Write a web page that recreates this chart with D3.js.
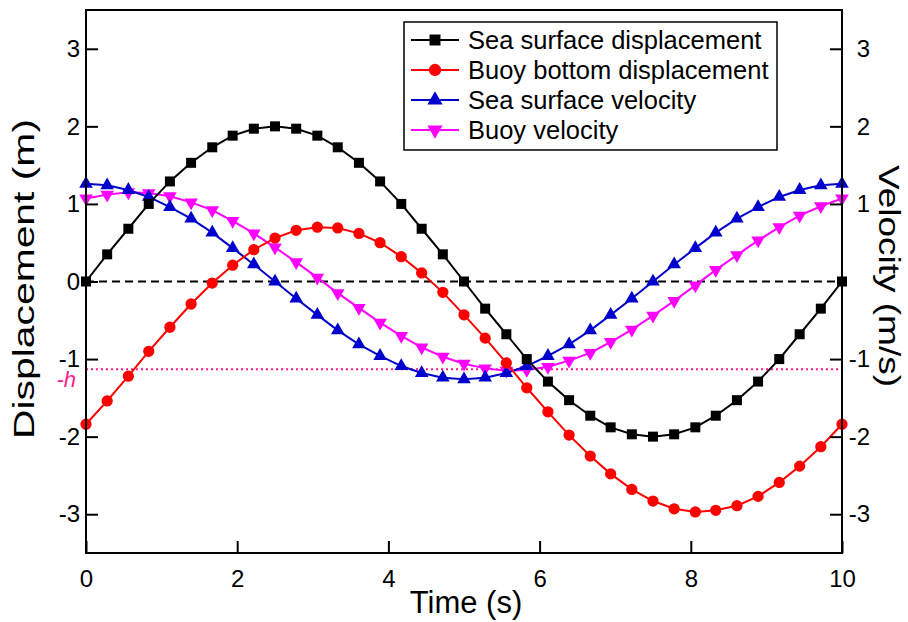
<!DOCTYPE html>
<html>
<head>
<meta charset="utf-8">
<script src="https://cdn.jsdelivr.net/npm/d3@7"></script>
<style>
  body { margin: 0; background: #fff; }
  text { font-family: "Liberation Sans", Arial, sans-serif; fill: #000; }
</style>
</head>
<body>
<div id="chart"></div>
<script>
// time samples (s)
const time = [0, 0.28, 0.56, 0.83, 1.11, 1.39, 1.67, 1.94, 2.22, 2.5, 2.78, 3.06, 3.33, 3.61, 3.89,
  4.17, 4.44, 4.72, 5, 5.28, 5.56, 5.83, 6.11, 6.39, 6.67, 6.94, 7.22, 7.5, 7.78, 8.06, 8.33,
  8.61, 8.89, 9.17, 9.44, 9.72, 10];

const seaDisp = [0, 0.35, 0.68, 1.00, 1.29, 1.53, 1.73, 1.88, 1.97, 2.00, 1.97, 1.88, 1.73, 1.53,
  1.29, 1.00, 0.68, 0.35, 0, -0.35, -0.68, -1.00, -1.29, -1.53, -1.73, -1.88, -1.97, -2.00, -1.97,
  -1.88, -1.73, -1.53, -1.29, -1.00, -0.68, -0.35, 0];

const buoyDisp = [-1.84, -1.54, -1.22, -0.90, -0.59, -0.29, -0.02, 0.21, 0.41, 0.56, 0.66, 0.70,
  0.69, 0.62, 0.50, 0.32, 0.11, -0.14, -0.43, -0.73, -1.05, -1.37, -1.68, -1.98, -2.25, -2.48,
  -2.68, -2.83, -2.93, -2.97, -2.95, -2.89, -2.77, -2.59, -2.38, -2.13, -1.84];

const seaVel = [1.26, 1.24, 1.18, 1.09, 0.96, 0.81, 0.63, 0.43, 0.22, 0, -0.22, -0.43, -0.63, -0.81,
  -0.96, -1.09, -1.18, -1.24, -1.26, -1.24, -1.18, -1.09, -0.96, -0.81, -0.63, -0.43, -0.22, 0,
  0.22, 0.43, 0.63, 0.81, 0.96, 1.09, 1.18, 1.24, 1.26];

const buoyVel = [1.07, 1.12, 1.15, 1.14, 1.10, 1.02, 0.92, 0.78, 0.62, 0.44, 0.25, 0.05, -0.15,
  -0.34, -0.53, -0.70, -0.85, -0.97, -1.06, -1.12, -1.15, -1.14, -1.10, -1.02, -0.92, -0.78, -0.62,
  -0.44, -0.25, -0.05, 0.15, 0.34, 0.53, 0.70, 0.85, 0.97, 1.07];

const hLevel = -1.13;

const xTicks = [0, 2, 4, 6, 8, 10];
const yTicksLeft = [-3, -2, -1, 0, 1, 2, 3];
const yTicksRight = [-3, -2, -1, 1, 2, 3];

const seriesNames = ['Sea surface displacement', 'Buoy bottom displacement', 'Sea surface velocity', 'Buoy velocity'];

const config = {
  width: 908,
  height: 622,
  margin: {top: 10, right: 66, bottom: 69, left: 86}
};

const series = [
  {name: seriesNames[0], values: seaDisp, color: '#000000', symbol: d3.symbolSquare, size: 100, rot: 0},
  {name: seriesNames[1], values: buoyDisp, color: '#ff0000', symbol: d3.symbolCircle, size: 100, rot: 0},
  {name: seriesNames[2], values: seaVel, color: '#0000cc', symbol: d3.symbolTriangle, size: 80, rot: 0},
  {name: seriesNames[3], values: buoyVel, color: '#ff00ff', symbol: d3.symbolTriangle, size: 80, rot: 180}
];

const width = config.width - config.margin.left - config.margin.right;
const height = config.height - config.margin.top - config.margin.bottom;

const svg = d3.select('#chart').append('svg')
  .attr('width', config.width)
  .attr('height', config.height);

const chart = svg.append('g')
  .attr('transform', `translate(${config.margin.left}, ${config.margin.top})`);

const xScale = d3.scaleLinear().domain([0, 10]).range([0, width]);
const yScale = d3.scaleLinear().domain([-3.5, 3.5]).range([height, 0]);

// reference lines
chart.append('line')
  .attr('x1', 0).attr('x2', width)
  .attr('y1', yScale(0)).attr('y2', yScale(0))
  .attr('stroke', '#000').attr('stroke-width', 2)
  .attr('stroke-dasharray', '8,5');

chart.append('line')
  .attr('x1', 0).attr('x2', width)
  .attr('y1', yScale(hLevel)).attr('y2', yScale(hLevel))
  .attr('stroke', '#ff1a8c').attr('stroke-width', 2)
  .attr('stroke-dasharray', '2,3');

// series, drawn last-to-first so the first sits on top
const line = d3.line()
  .x((d, i) => xScale(time[i]))
  .y(d => yScale(d));

series.slice().reverse().forEach(s => {
  chart.append('path')
    .attr('d', line(s.values))
    .attr('fill', 'none')
    .attr('stroke', s.color)
    .attr('stroke-width', 2);

  chart.selectAll(null)
    .data(s.values)
    .join('path')
    .attr('d', d3.symbol().type(s.symbol).size(s.size))
    .attr('transform', (d, i) => `translate(${xScale(time[i])}, ${yScale(d)}) rotate(${s.rot})`)
    .attr('fill', s.color);
});

// axes
const tickLen = 12;
const fmt = d => String(d);
const xAxis = d3.axisBottom(xScale).tickValues(xTicks).tickSizeInner(-tickLen).tickSizeOuter(0)
  .tickPadding(17).tickFormat(fmt);
const yAxisL = d3.axisLeft(yScale).tickValues(yTicksLeft).tickSizeInner(-tickLen).tickSizeOuter(0)
  .tickPadding(6).tickFormat(fmt);
const yAxisR = d3.axisRight(yScale).tickValues(yTicksRight).tickSizeInner(-tickLen).tickSizeOuter(0)
  .tickPadding(28).tickFormat(fmt);

const styleAxis = g => {
  g.select('.domain').remove();
  g.selectAll('.tick line').attr('stroke', '#000').attr('stroke-width', 2);
  g.selectAll('.tick text')
    .attr('font-size', 24)
    .attr('font-family', '"Liberation Sans", Arial, sans-serif')
    .attr('fill', '#000');
};

chart.append('g')
  .attr('transform', `translate(0, ${height})`)
  .call(xAxis)
  .call(styleAxis);

chart.append('g')
  .call(yAxisL)
  .call(styleAxis);

chart.append('g')
  .attr('transform', `translate(${width}, 0)`)
  .call(yAxisR)
  .call(styleAxis)
  .selectAll('.tick text')
  .attr('text-anchor', 'end');

// frame
chart.append('rect')
  .attr('width', width).attr('height', height)
  .attr('fill', 'none').attr('stroke', '#000').attr('stroke-width', 2);

// -h label
chart.append('text')
  .attr('x', -10)
  .attr('y', yScale(hLevel) + 18)
  .attr('text-anchor', 'end')
  .attr('font-size', 22)
  .attr('font-style', 'italic')
  .style('fill', '#ff1a8c')
  .text('-h');

// axis titles
svg.append('text')
  .attr('x', config.margin.left + xScale(5) + 2)
  .attr('y', 613)
  .attr('text-anchor', 'middle')
  .attr('font-size', 31)
  .text('Time (s)');

svg.append('text')
  .attr('transform', 'translate(34, 439) rotate(-90)')
  .attr('font-size', 29)
  .attr('textLength', 320)
  .attr('lengthAdjust', 'spacingAndGlyphs')
  .text('Displacement (m)');

svg.append('text')
  .attr('transform', 'translate(879, 165) rotate(90)')
  .attr('font-size', 29)
  .attr('textLength', 222)
  .attr('lengthAdjust', 'spacingAndGlyphs')
  .text('Velocity (m/s)');

// legend
const legend = svg.append('g').attr('transform', 'translate(404, 22)');
legend.append('rect')
  .attr('width', 373).attr('height', 128)
  .attr('fill', '#fff').attr('stroke', '#000').attr('stroke-width', 1.5);

series.forEach((s, i) => {
  const g = legend.append('g').attr('transform', `translate(0, ${18 + i * 30})`);
  g.append('line')
    .attr('x1', 7).attr('x2', 55)
    .attr('stroke', s.color).attr('stroke-width', 2);
  g.append('path')
    .attr('d', d3.symbol().type(s.symbol).size(s.size + 20))
    .attr('transform', `translate(31, 0) rotate(${s.rot})`)
    .attr('fill', s.color);
  g.append('text')
    .attr('x', 64)
    .attr('y', 9)
    .attr('font-size', 25.5)
    .text(s.name);
});
</script>
</body>
</html>
